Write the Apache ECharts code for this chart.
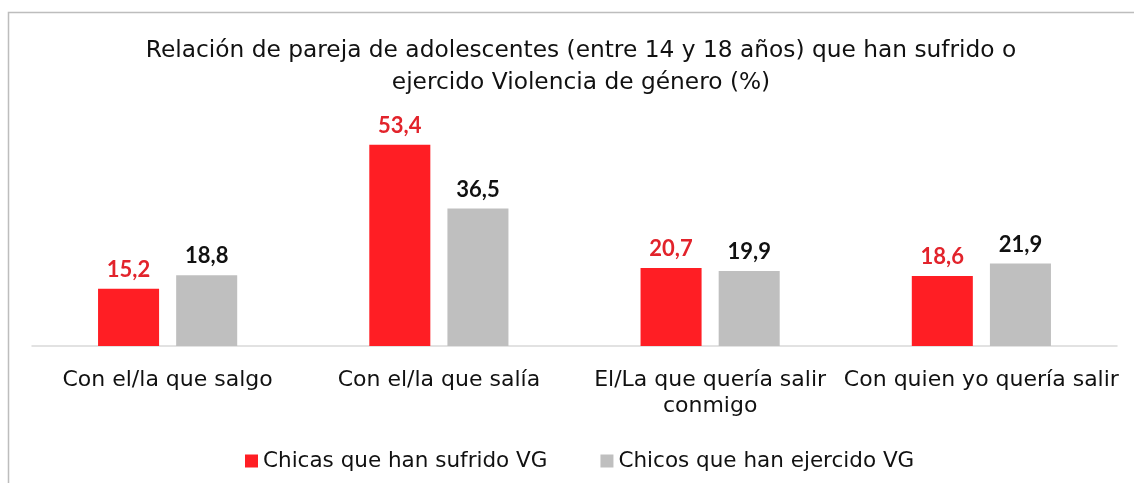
<!DOCTYPE html>
<html>
<head>
<meta charset="UTF-8">
<title>Violencia de género</title>
<script src="https://cdn.jsdelivr.net/npm/echarts@6/dist/echarts.min.js"></script>
<style>
  html, body { margin: 0; padding: 0; background: #fff; }
  #main { width: 1134px; height: 483px; }
</style>
</head>
<body>
<div id="main"></div>
<script type="text/javascript">
// datos
var categorias = ['Con el/la que salgo', 'Con el/la que salía', 'El/La que quería salir\nconmigo', 'Con quien yo quería salir'];
var chicas = [15.2, 53.4, 20.7, 18.6];
var chicos = [18.8, 36.5, 19.9, 21.9];
var nombres = ['Chicas que han sufrido VG', 'Chicos que han ejercido VG'];

var fuente = '"DejaVu Sans"';
var fuenteNum = 'Lato';
var rojo = '#FF1E24';
var gris = '#BFBFBF';

function coma(p) {
  return p.value.toFixed(1).replace('.', ',');
}

var myChart = echarts.init(document.getElementById('main'));

var option = {
  backgroundColor: '#fff',
  graphic: [{
    type: 'rect',
    shape: { x: 8.5, y: 12.5, width: 1300, height: 600 },
    style: { fill: 'none', stroke: '#BDBDBD', lineWidth: 1.5 },
    silent: true
  }],
  title: {
    text: 'Relación de pareja de adolescentes (entre 14 y 18 años) que han sufrido o\nejercido Violencia de género (%)',
    left: 576,
    top: 30,
    textAlign: 'center',
    textStyle: {
      fontFamily: fuente,
      fontWeight: 'normal',
      fontSize: 23.3,
      lineHeight: 32,
      color: '#111'
    }
  },
  legend: {
    data: nombres,
    left: 240,
    top: 445,
    itemWidth: 13,
    itemHeight: 13,
    itemGap: 53,
    icon: 'rect',
    textStyle: { fontFamily: fuente, fontSize: 21.5, color: '#111' }
  },
  grid: { left: 32, right: 17, top: 120, bottom: 137, containLabel: false },
  xAxis: {
    type: 'category',
    data: categorias,
    axisTick: { show: false },
    axisLine: { lineStyle: { color: '#D9D9D9', width: 1.5 } },
    axisLabel: {
      interval: 0,
      margin: 21,
      fontFamily: fuente,
      fontSize: 22,
      lineHeight: 26,
      color: '#111'
    }
  },
  yAxis: {
    type: 'value',
    min: 0,
    max: 60,
    show: false,
    splitLine: { show: false }
  },
  series: [{
    name: nombres[0],
    type: 'bar',
    data: chicas,
    barWidth: '22.5%',
    barGap: '28%',
    itemStyle: { color: rojo },
    label: {
      show: true,
      position: 'top',
      distance: 8,
      formatter: coma,
      fontFamily: fuenteNum,
      fontWeight: 'bold',
      fontSize: 22,
      color: '#E2232B'
    }
  }, {
    name: nombres[1],
    type: 'bar',
    data: chicos,
    barWidth: '22.5%',
    itemStyle: { color: gris },
    label: {
      show: true,
      position: 'top',
      distance: 8,
      formatter: coma,
      fontFamily: fuenteNum,
      fontWeight: 'bold',
      fontSize: 22,
      color: '#111'
    }
  }]
};

myChart.setOption(option);
</script>
</body>
</html>
